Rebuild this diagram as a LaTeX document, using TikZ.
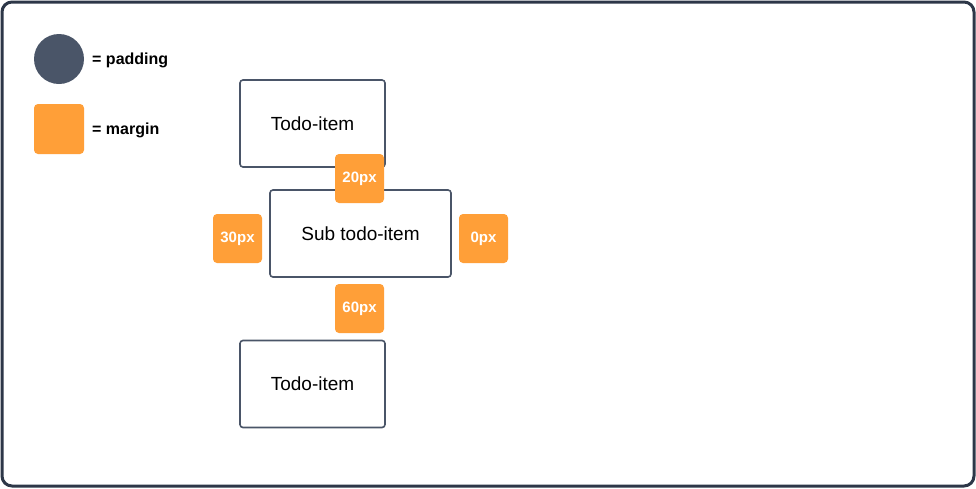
\documentclass[tikz,border=0pt]{standalone}
\usepackage{fontspec}
\setmainfont{Liberation Sans}
\definecolor{frame}{HTML}{2D3748}
\definecolor{slate}{HTML}{4A5568}
\definecolor{orng}{HTML}{FF9F38}
\tikzset{
  item/.style={draw=slate, line width=1.6pt, rounded corners=3pt, fill=white, minimum width=145pt, minimum height=87pt, inner sep=0pt, font=\fontsize{19}{21}\selectfont},
  mbox/.style={fill=orng, rounded corners=4pt, minimum size=49pt, inner sep=0pt, text=white, font=\fontsize{15}{17}\selectfont\bfseries},
  legtext/.style={anchor=west, inner sep=0pt, font=\fontsize{16}{18}\selectfont\bfseries}
}
\begin{document}
\begin{tikzpicture}[x=1pt,y=-1pt]
\useasboundingbox (0,0) rectangle (976,488);
\draw[frame, line width=3pt, rounded corners=10pt, fill=white] (2,2) rectangle (974,486);
% legend
\node[circle, fill=slate, minimum size=50pt, inner sep=0pt] (lp) at (59,59) {};
\node[legtext] (lpt) at (92,60) {= padding};
\node[fill=orng, rounded corners=4pt, minimum size=50pt, inner sep=0pt] (lm) at (59,129) {};
\node[legtext] (lmt) at (92,130) {= margin};
% items
\node[item] (t1) at (312.5,123.5) {\raisebox{-1.5pt}{Todo-item}};
\node[item, minimum width=181pt] (sub) at (360.5,233.5) {\raisebox{-1pt}{Sub todo-item}};
\node[item] (t2) at (312.5,384) {\raisebox{-1pt}{Todo-item}};
% margins
\node[mbox] (m20) at (359.5,178.5) {\raisebox{-1.5pt}{20px}};
\node[mbox] (m30) at (237.5,238.5) {\raisebox{-1.5pt}{30px}};
\node[mbox] (m0) at (483.5,238.5) {\raisebox{-1.5pt}{0px}};
\node[mbox] (m60) at (359.5,308.5) {\raisebox{-1.5pt}{60px}};
\end{tikzpicture}
\end{document}
